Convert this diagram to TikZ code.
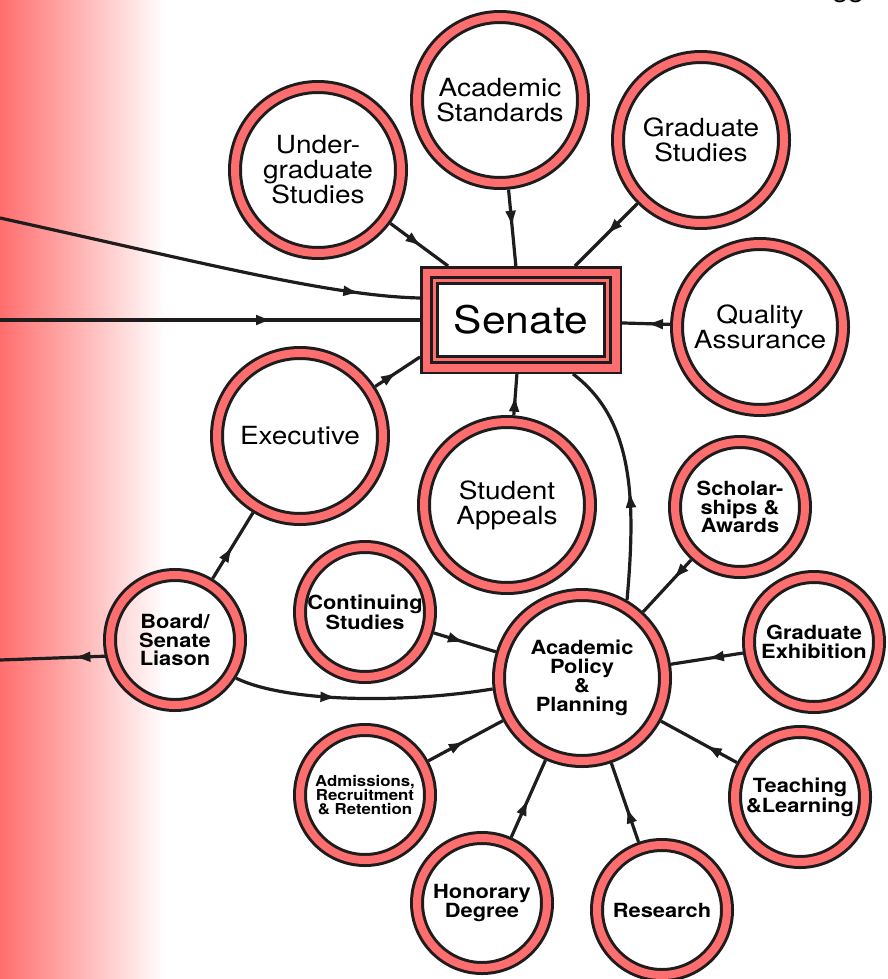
\documentclass[tikz,border=0pt]{standalone}
\usepackage{fontspec}
\setmainfont{TeX Gyre Heros}[FakeStretch=1.12]
\usetikzlibrary{arrows.meta,decorations.markings}

\definecolor{ringred}{RGB}{255,110,110}
\definecolor{ink}{RGB}{30,28,28}

\begin{document}
\begin{tikzpicture}[x=1pt,y=-1pt]
	\tikzset{VertexStyle/.style =
	{draw = ink,
		shape = circle,
		line width = 3pt,
		double = ringred,
		double distance = 8pt,
		inner sep = 0pt,
		outer sep = 7pt,
		align = center,
		minimum size = 166pt,
		font = \fontsize{25}{25}\selectfont},
	SmallVertex/.style =
	{VertexStyle,
		minimum size = 130pt,
		font = \fontsize{19.5}{18.5}\selectfont\bfseries},
	SenateStyle/.style =
	{draw = ink, fill = ringred,
		line width = 2.5pt,
		minimum width = 199.5pt,
		minimum height = 105.5pt,
		outer sep = 1.25pt},
	SenateInner/.style =
	{draw = ink, fill = white,
		line width = 3pt,
		double = ringred,
		double distance = 3pt},
	EdgeStyle/.style =
	{draw = ink,
		line width = 3.2pt,
		postaction = {decorate,
			decoration = {markings,
				mark = at position #1 with {\arrow{Latex[length=17pt,width=11pt]}}}}},
	EdgeStyle/.default = 0.5}
\useasboundingbox (0,0) rectangle (887,979);
% red band on the left
\shade[left color=ringred, right color=white] (0,0) rectangle (165,979);
\node[anchor=south, inner sep=0pt, font=\fontsize{25}{25}\selectfont] (pagenum) at (848,3.5) {33};

% Senate
\node[SenateStyle] (senate) at (521,320) {};
\draw[SenateInner] ([shift={(14.5,14.5)}]senate.north west) rectangle ([shift={(-14.5,-14.5)}]senate.south east);
\node[font=\fontsize{38}{40}\selectfont] (senatelabel) at (senate) {Senate};

% committees
\node[VertexStyle] (under) at (318,170) {Under-\\graduate\\Studies};
\node[VertexStyle] (acad) at (500,100) {Academic\\Standards};
\node[VertexStyle] (grad) at (701,140) {Graduate\\Studies};
\node[VertexStyle] (qa) at (760,327) {Quality\\Assurance};
\node[VertexStyle] (exec) at (300,436) {Executive};
\node[VertexStyle] (appeal) at (507,505) {Student\\Appeals};
\node[VertexStyle, font=\fontsize{19.5}{19}\selectfont\bfseries] (app) at (582,678) {Academic\\Policy\\\&\\Planning};
\node[SmallVertex] (schol) at (740,507) {Scholar-\\ships \&\\Awards};
\node[SmallVertex] (cont) at (365,612) {Continuing\\Studies};
\node[SmallVertex] (board) at (175,640) {Board/\\Senate\\Liason};
\node[SmallVertex] (gradex) at (814,642) {Graduate\\Exhibition};
\node[SmallVertex, font=\fontsize{15}{14}\selectfont\bfseries] (adm) at (365,795) {Admissions,\\Recruitment\\\& Retention};
\node[SmallVertex] (teach) at (800,797) {Teaching\\\&Learning};
\node[SmallVertex] (hon) at (482,903) {Honorary\\Degree};
\node[SmallVertex] (res) at (662,910) {Research};

% free ends at the left border
\coordinate (leftA) at (0,218);
\coordinate (leftB) at (0,320);
\coordinate (leftC) at (0,660);

% into Senate
\draw[EdgeStyle=0.55] (under) -- (senate);
\draw[EdgeStyle] (acad) -- (senate);
\draw[EdgeStyle] (grad) -- (senate);
\draw[EdgeStyle] (qa) -- (senate);
\draw[EdgeStyle] (exec) -- ([yshift=-37pt]senate.west);
\draw[EdgeStyle] (appeal) -- (senate);
\draw[EdgeStyle=0.86] (leftA) .. controls (200,262) and (330,296) .. ([yshift=22pt]senate.west);
\draw[EdgeStyle=0.65] (leftB) -- (senate.west);
\draw[EdgeStyle=0.45] (app.60) .. controls (636,500) and (634,420) .. ([xshift=52pt]senate.south);

% Board/Senate Liason
\draw[EdgeStyle] (board) -- (exec);
\draw[EdgeStyle=0.3] (board.193) -- (leftC);
\draw[EdgeStyle=0.4] (board.-32) .. controls (285,702) and (400,704) .. (app.187);

% into Academic Policy & Planning
\draw[EdgeStyle=0.38] (schol) -- (app);
\draw[EdgeStyle] (cont) -- (app);
\draw[EdgeStyle] (gradex) -- (app);
\draw[EdgeStyle] (adm) -- (app);
\draw[EdgeStyle=0.42] (teach) -- (app);
\draw[EdgeStyle] (hon) -- (app);
\draw[EdgeStyle=0.45] (res) -- (app);

\end{tikzpicture}
\end{document}
